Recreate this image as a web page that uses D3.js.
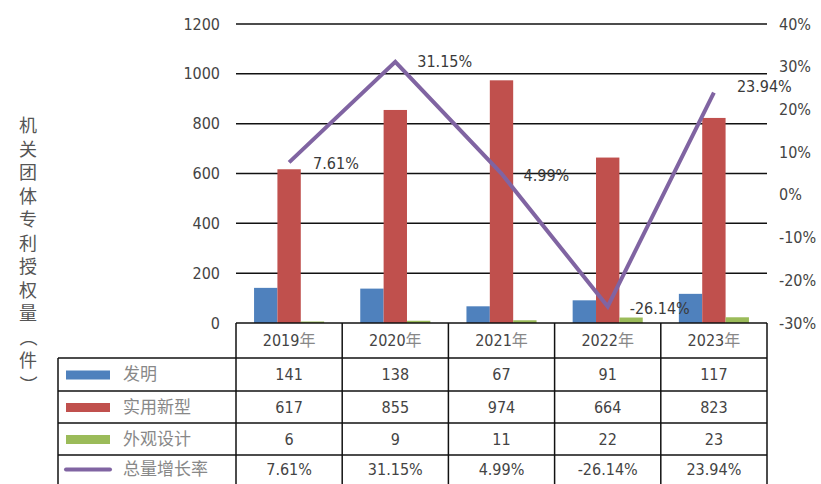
<!DOCTYPE html>
<html><head><meta charset="utf-8">
<script src="https://cdn.jsdelivr.net/npm/d3@7"></script>
<style>
body{margin:0;background:#fff;}
svg{display:block;}
</style></head>
<body>
<svg id="c" width="821" height="484"></svg>
<script>
const years = ["2019年","2020年","2021年","2022年","2023年"];
const seriesNames = ["发明","实用新型","外观设计"];
const invention = [141,138,67,91,117];
const utility = [617,855,974,664,823];
const design = [6,9,11,22,23];
const growth = [7.61,31.15,4.99,-26.14,23.94];
const growthLabels = ["7.61%","31.15%","4.99%","-26.14%","23.94%"];
const lineName = "总量增长率";
const leftTicks = [0,200,400,600,800,1000,1200];
const rightTicks = [-30,-20,-10,0,10,20,30,40];
const yTitle = "机关团体专利授权量（件）";

const colors = ["#4F81BD","#C0504D","#9BBB59"];
const lineColor = "#8064A2";
const numFont = "'DejaVu Sans Condensed','Liberation Sans Narrow',sans-serif";
const cjkFont = "'Noto Sans CJK SC',sans-serif";
const numColor = "#444";

const svg = d3.select("#c");
const L = 236, R = 767, T = 24, B = 323;
const x0 = d3.scaleBand().domain(years).range([L,R]);
const bw = x0.bandwidth();
const x1 = d3.scaleBand().domain(seriesNames).range([bw*0.17, bw*0.83]);
const y = d3.scaleLinear().domain([0,1200]).range([B,T]);
const y2 = d3.scaleLinear().domain([-30,40]).range([B,T]);

// gridlines
svg.append("g").selectAll("line").data(leftTicks.filter(d=>d>0)).join("line")
  .attr("x1",L).attr("x2",R).attr("y1",d=>y(d)).attr("y2",d=>y(d))
  .attr("stroke","#111").attr("stroke-width",1.5);

// left axis
const la = svg.append("g").attr("transform",`translate(${L},0)`)
  .call(d3.axisLeft(y).tickValues(leftTicks).tickSize(0).tickPadding(16).tickFormat(d3.format("d")));
la.select(".domain").remove();
la.selectAll("text").attr("font-family",numFont).attr("font-size",16).attr("fill",numColor);

// right axis
const ra = svg.append("g").attr("transform",`translate(${R},0)`)
  .call(d3.axisRight(y2).tickValues(rightTicks).tickSize(0).tickPadding(12).tickFormat(d=>d+"%"));
ra.select(".domain").remove();
ra.selectAll("text").attr("font-family",numFont).attr("font-size",16).attr("fill",numColor);

// bars
const seriesData = [invention, utility, design];
const g = svg.append("g");
seriesData.forEach((arr,si)=>{
  g.selectAll(null).data(arr).join("rect")
    .attr("x",(d,i)=>x0(years[i])+x1(seriesNames[si]))
    .attr("width",x1.bandwidth())
    .attr("y",d=>y(d)).attr("height",d=>B-y(d))
    .attr("fill",colors[si]);
});

// line
const line = d3.line().x((d,i)=>x0(years[i])+bw/2).y(d=>y2(d));
svg.append("path").datum(growth).attr("d",line)
  .attr("fill","none").attr("stroke",lineColor).attr("stroke-width",4).attr("stroke-linejoin","miter");

// line labels
const lblOff = [[24,1],[22,0],[22,2],[22,2],[23,-6]];
svg.append("g").selectAll("text").data(growth).join("text")
  .attr("x",(d,i)=>x0(years[i])+bw/2+lblOff[i][0])
  .attr("y",(d,i)=>y2(d)+lblOff[i][1])
  .attr("dy","0.35em")
  .attr("font-family",numFont).attr("font-size",16).attr("fill","#3a3a3a")
  .text((d,i)=>growthLabels[i]);

// table
const rowY = [323,358,391,423,455,490];
const tLeft = 58;
const tg = svg.append("g");
const bcol = "#111";
tg.append("line").attr("x1",L).attr("x2",R).attr("y1",rowY[0]).attr("y2",rowY[0]).attr("stroke",bcol).attr("stroke-width",1.5);
for(let r=1;r<rowY.length-1;r++){
  tg.append("line").attr("x1",tLeft).attr("x2",R).attr("y1",rowY[r]).attr("y2",rowY[r]).attr("stroke",bcol).attr("stroke-width",1.5);
}
const colX = years.map(yy=>x0(yy)).concat([R]);
colX.forEach(cx=>{
  tg.append("line").attr("x1",cx).attr("x2",cx).attr("y1",rowY[0]).attr("y2",484).attr("stroke",bcol).attr("stroke-width",1.5);
});
tg.append("line").attr("x1",tLeft).attr("x2",tLeft).attr("y1",rowY[1]).attr("y2",484).attr("stroke",bcol).attr("stroke-width",1.5);

// header text
tg.selectAll(null).data(years).join("text")
  .attr("x",d=>x0(d)+bw/2).attr("y",(rowY[0]+rowY[1])/2).attr("dy","0.35em")
  .attr("text-anchor","middle")
  .each(function(d){
    const t=d3.select(this);
    t.append("tspan").attr("font-family",numFont).attr("font-size",16).attr("fill",numColor).text(d.slice(0,4));
    t.append("tspan").attr("font-family",cjkFont).attr("font-size",16).attr("fill","#888").text(d.slice(4));
  });

// rows
const rows = [
  {name:seriesNames[0], vals:invention.map(String), color:colors[0], type:"rect"},
  {name:seriesNames[1], vals:utility.map(String), color:colors[1], type:"rect"},
  {name:seriesNames[2], vals:design.map(String), color:colors[2], type:"rect"},
  {name:lineName, vals:growthLabels, color:lineColor, type:"line"}
];
rows.forEach((row,ri)=>{
  const yc = ri===3 ? (rowY[4]+484)/2 : (rowY[ri+1]+rowY[ri+2])/2;
  if(row.type==="rect"){
    tg.append("rect").attr("x",66).attr("y",yc-4).attr("width",44).attr("height",9).attr("fill",row.color);
  } else {
    tg.append("line").attr("x1",66).attr("x2",110).attr("y1",yc).attr("y2",yc).attr("stroke",row.color).attr("stroke-width",4).attr("stroke-linecap","round");
  }
  tg.append("text").attr("x",123).attr("y",yc).attr("dy","0.35em")
    .attr("font-family",cjkFont).attr("font-size",17).attr("fill","#888").text(row.name);
  tg.selectAll(null).data(row.vals).join("text")
    .attr("x",(d,i)=>x0(years[i])+bw/2).attr("y",yc).attr("dy","0.35em")
    .attr("text-anchor","middle")
    .attr("font-family",numFont).attr("font-size",16).attr("fill",numColor)
    .text(d=>d);
});

// y title vertical
const chars = Array.from(yTitle);
svg.append("g").selectAll("text").data(chars).join("text")
  .attr("x",28).attr("y",(d,i)=>126+i*23.5).attr("dy","0.35em")
  .attr("text-anchor","middle")
  .attr("font-family",cjkFont).attr("font-size",18).attr("fill","#555")
  .attr("transform",(d,i)=> (d==="（"||d==="）") ? `rotate(90,28,${126+i*23.5})` : null)
  .text(d=>d);
</script>
</body></html>
